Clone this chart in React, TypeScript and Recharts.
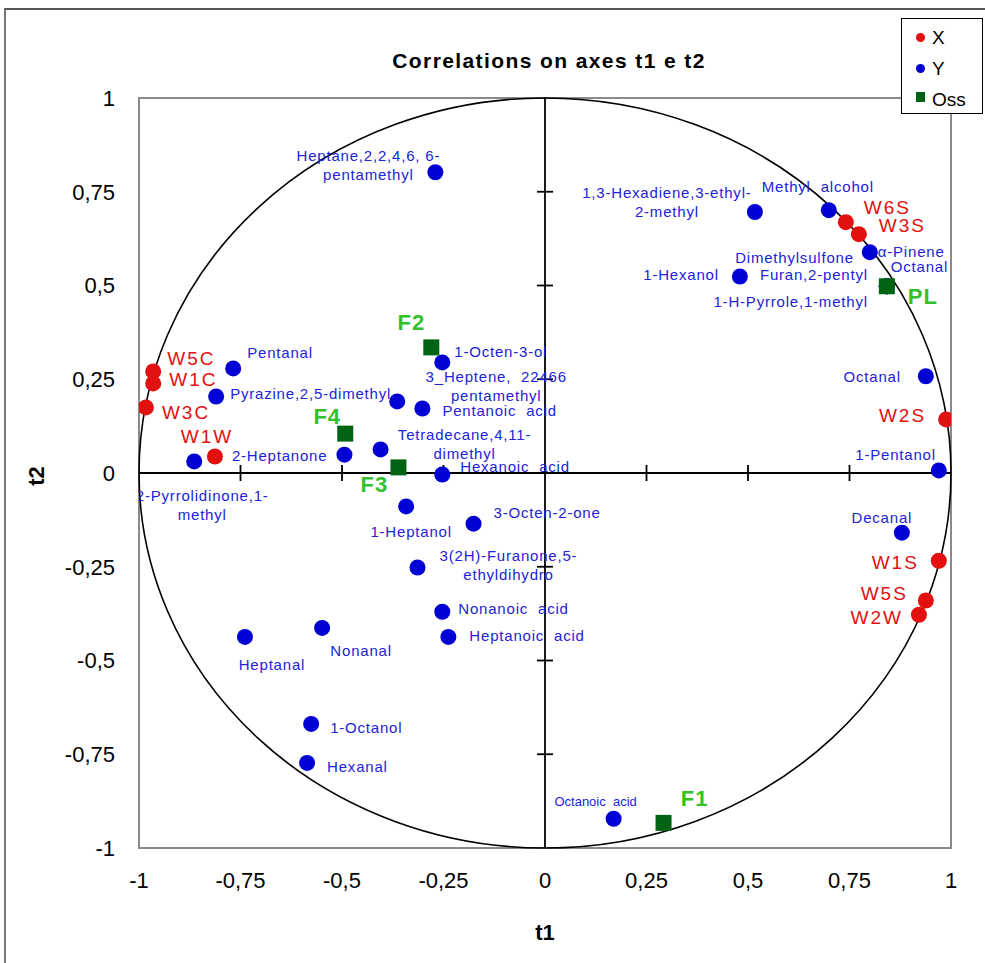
import { ScatterChart, Scatter, XAxis, YAxis, ReferenceLine, ReferenceDot, ReferenceArea, Label } from 'recharts'

const FONT = '"Liberation Sans", Arial, sans-serif'
const W = 985
const H = 963
const MARGIN = { top: 98, right: 34, bottom: 0, left: 0 }
const Y_AXIS_W = 139
const X_AXIS_H = 115
const PLOT_W = W - MARGIN.left - MARGIN.right - Y_AXIS_W
const PLOT_H = H - MARGIN.top - MARGIN.bottom - X_AXIS_H

// axis ticks
const axisTicks = [-1, -0.75, -0.5, -0.25, 0, 0.25, 0.5, 0.75, 1]
const innerTicks = [-0.75, -0.5, -0.25, 0.25, 0.5, 0.75]

// X (samples)
const xNames = ['W5C', 'W1C', 'W3C', 'W1W', 'W6S', 'W3S', 'W2S', 'W1S', 'W5S', 'W2W']
const xT1 = [-0.965, -0.965, -0.983, -0.813, 0.741, 0.773, 0.988, 0.97, 0.938, 0.921]
const xT2 = [0.271, 0.239, 0.175, 0.044, 0.669, 0.637, 0.143, -0.234, -0.34, -0.378]

// Y (volatile compounds)
const yNames = [
  'Heptane,2,2,4,6, 6-\npentamethyl',
  'Pentanal',
  'Pyrazine,2,5-dimethyl',
  '2-Pyrrolidinone,1-\nmethyl',
  '2-Heptanone',
  'Tetradecane,4,11-\ndimethyl',
  '1-Octen-3-ol',
  '3_Heptene,  22466\npentamethyl',
  'Pentanoic  acid',
  'Hexanoic  acid',
  '1-Heptanol',
  '3-Octen-2-one',
  '3(2H)-Furanone,5-\nethyldihydro',
  'Nonanoic  acid',
  'Heptanoic  acid',
  'Heptanal',
  'Nonanal',
  '1-Octanol',
  'Hexanal',
  'Octanoic  acid',
  '1,3-Hexadiene,3-ethyl-\n2-methyl',
  'Methyl  alcohol',
  'α-Pinene',
  'Octanal',
  'Dimethylsulfone',
  'Furan,2-pentyl',
  '1-H-Pyrrole,1-methyl',
  '1-Hexanol',
  'Octanal',
  '1-Pentanol',
  'Decanal',
]
const yT1 = [
  -0.27, -0.768, -0.81, -0.864, -0.494, -0.405, -0.253, -0.364, -0.302, -0.253, -0.342, -0.176, -0.314, -0.253, -0.238,
  -0.739, -0.549, -0.576, -0.586, 0.169, 0.517, 0.699, 0.8, 0.842, 0.842, 0.842, 0.842, 0.48, 0.938, 0.97, 0.879,
]
const yT2 = [
  0.802, 0.279, 0.204, 0.031, 0.049, 0.063, 0.295, 0.191, 0.172, -0.004, -0.089, -0.135, -0.252, -0.37, -0.437,
  -0.437, -0.413, -0.669, -0.773, -0.922, 0.696, 0.701, 0.589, 0.498, 0.498, 0.498, 0.498, 0.524, 0.258, 0.007, -0.159,
]

// Oss (observations)
const ossNames = ['F2', 'F4', 'F3', 'PL', 'F1']
const ossT1 = [-0.28, -0.492, -0.361, 0.842, 0.292]
const ossT2 = [0.335, 0.105, 0.015, 0.498, -0.933]

// label placement: [anchor, dx, dy, fontSize?]
type Place = [string, number, number, number?]
const xPlace: Place[] = [
  ['start', 14, -13], ['start', 16, -4], ['start', 16, 5], ['middle', -8, -21], ['start', 18, -15],
  ['start', 20, -9], ['end', -20, -4], ['end', -20, 1], ['end', -18, -8], ['end', -16, 2],
]
const yPlace: Place[] = [
  ['middle', -67, -17], ['start', 14, -16], ['start', 14, -4], ['middle', 8, 34], ['end', -17, 0],
  ['middle', 84, -15], ['start', 12, -11], ['middle', 99, -25], ['start', 20, 1], ['start', 18, -9],
  ['middle', 5, 25], ['start', 20, -12], ['middle', 91, -13], ['start', 16, -4], ['start', 21, -2],
  ['middle', 27, 27], ['middle', 39, 22], ['start', 19, 3], ['start', 20, 3], ['middle', -18, -18, 13],
  ['middle', -88, -20], ['middle', -11, -24], ['start', 8, -1], ['start', 4, -20], ['end', -33, -29],
  ['end', -19, -12], ['end', -19, 15], ['end', -21, -3], ['end', -25, 0], ['end', -3, -16],
  ['middle', -20, -16],
]
const ossPlace: Place[] = [
  ['middle', -20, -25], ['middle', -18, -18], ['middle', -24, 17], ['start', 21, 10], ['middle', 31, -25],
]

const build = (names: string[], t1: number[], t2: number[]) =>
  names.map((name, i) => ({ name, t1: t1[i], t2: t2[i], i }))

const xData = build(xNames, xT1, xT2)
const yData = build(yNames, yT1, yT2)
const ossData = build(ossNames, ossT1, ossT2)

const styles = {
  x: { fill: '#e31010', text: '#e31010', size: 19, weight: 400, ls: 2 },
  y: { fill: '#0000d4', text: '#2222d8', size: 15, weight: 400, ls: 0.8 },
  oss: { fill: '#006414', text: '#33c02a', size: 22, weight: 700, ls: 1 },
}

function makeShape(kind: 'x' | 'y' | 'oss', places: Place[]) {
  const st = styles[kind]
  return (props: any) => {
    const { cx, cy, payload } = props
    const [anchor, dx, dy, fs] = places[payload.i]
    const size = fs ?? st.size
    const lines = payload.name.split('\n')
    return (
      <g>
        {kind === 'oss' ? (
          <rect x={cx - 8} y={cy - 8} width={16} height={16} fill={st.fill} />
        ) : (
          <circle cx={cx} cy={cy} r={8} fill={st.fill} />
        )}
        <text
          x={cx + dx}
          y={cy + dy}
          textAnchor={anchor as any}
          dominantBaseline="central"
          fill={st.text}
          fontSize={size}
          fontWeight={st.weight}
          fontFamily={FONT}
          letterSpacing={size < 14 ? 0 : st.ls}
          style={{ whiteSpace: 'pre' }}
        >
          {lines.map((l: string, k: number) => (
            <tspan key={k} x={cx + dx} dy={k === 0 ? 0 : 19}>
              {l}
            </tspan>
          ))}
        </text>
      </g>
    )
  }
}

const fmt = (v: number) => String(v).replace('.', ',')

function LegendBox() {
  const row = { display: 'flex', alignItems: 'center', height: 31 }
  return (
    <div
      style={{
        position: 'absolute',
        left: 901,
        top: 18,
        width: 82,
        height: 96,
        border: '1.5px solid #000',
        background: '#fff',
        boxSizing: 'border-box',
        padding: '3px 0 0 14px',
        fontSize: 19,
        fontFamily: FONT,
      }}
    >
      <div style={row}>
        <span style={{ width: 9, height: 9, borderRadius: 5, background: styles.x.fill, marginRight: 7 }} />X
      </div>
      <div style={row}>
        <span style={{ width: 9, height: 9, borderRadius: 5, background: styles.y.fill, marginRight: 7 }} />Y
      </div>
      <div style={row}>
        <span style={{ width: 9, height: 10, background: styles.oss.fill, marginRight: 7, marginTop: -6 }} />Oss
      </div>
    </div>
  )
}

export default function App() {
  return (
    <div style={{ position: 'absolute', left: 0, top: 0, width: W, height: H, overflow: 'hidden', background: '#fff' }}>
      <div
        style={{
          position: 'absolute',
          left: 4,
          top: 8,
          width: 1100,
          height: 1100,
          borderTop: '2px solid #555',
          borderLeft: '2px solid #777',
        }}
      />
      <div
        style={{
          position: 'absolute',
          left: 349,
          top: 49,
          width: 400,
          textAlign: 'center',
          fontFamily: FONT,
          fontWeight: 700,
          fontSize: 21,
          letterSpacing: 1.4,
          lineHeight: '24px',
        }}
      >
        Correlations on axes t1 e t2
      </div>
      <ScatterChart width={W} height={H} margin={MARGIN} style={{ position: 'absolute', left: 0, top: 0 }}>
        <XAxis
          type="number"
          dataKey="t1"
          domain={[-1, 1]}
          ticks={axisTicks}
          interval={0}
          allowDataOverflow
          height={X_AXIS_H}
          axisLine={false}
          tickLine={false}
          tickSize={0}
          tickMargin={24}
          tickFormatter={fmt}
          tick={{ fill: '#000', fontSize: 22, fontFamily: FONT }}
        >
          <Label value="t1" position="insideBottom" offset={23} fill="#000" fontSize={22} fontWeight={700} fontFamily={FONT} />
        </XAxis>
        <YAxis
          type="number"
          dataKey="t2"
          domain={[-1, 1]}
          ticks={axisTicks}
          interval={0}
          allowDataOverflow
          width={Y_AXIS_W}
          axisLine={false}
          tickLine={false}
          tickSize={0}
          tickMargin={24}
          tickFormatter={fmt}
          tick={{ fill: '#000', fontSize: 22, fontFamily: FONT }}
        >
          <Label
            content={(p: any) => {
              const vb = p.viewBox || { x: 0, y: MARGIN.top, height: PLOT_H }
              const x = 36
              const y = vb.y + vb.height / 2 + 3
              return (
                <text
                  x={x}
                  y={y}
                  transform={`rotate(-90 ${x} ${y})`}
                  textAnchor="middle"
                  dominantBaseline="central"
                  fill="#000"
                  fontSize={22}
                  fontWeight={700}
                  fontFamily={FONT}
                >
                  t2
                </text>
              )
            }}
          />
        </YAxis>
        <ReferenceArea x1={-1} x2={1} y1={-1} y2={1} fill="none" fillOpacity={0} stroke="#8a8a8a" strokeWidth={2} />
        <ReferenceDot
          x={0}
          y={0}
          r={1}
          ifOverflow="visible"
          shape={(p: any) => (
            <ellipse cx={p.cx} cy={p.cy} rx={PLOT_W / 2} ry={PLOT_H / 2} fill="none" stroke="#000" strokeWidth={1.6} />
          )}
        />
        <ReferenceLine x={0} stroke="#000" strokeWidth={1.8} />
        <ReferenceLine y={0} stroke="#000" strokeWidth={1.8} />
        {innerTicks.map((v) => (
          <ReferenceDot
            key={'tx' + v}
            x={v}
            y={0}
            r={1}
            shape={(p: any) => <line x1={p.cx} x2={p.cx} y1={p.cy - 8} y2={p.cy + 8} stroke="#000" strokeWidth={1.8} />}
          />
        ))}
        {innerTicks.map((v) => (
          <ReferenceDot
            key={'ty' + v}
            x={0}
            y={v}
            r={1}
            shape={(p: any) => <line x1={p.cx - 8} x2={p.cx + 8} y1={p.cy} y2={p.cy} stroke="#000" strokeWidth={1.8} />}
          />
        ))}
        <Scatter name="X" data={xData} shape={makeShape('x', xPlace)} isAnimationActive={false} />
        <Scatter name="Y" data={yData} shape={makeShape('y', yPlace)} isAnimationActive={false} />
        <Scatter name="Oss" data={ossData} shape={makeShape('oss', ossPlace)} isAnimationActive={false} />
      </ScatterChart>
      <LegendBox />
    </div>
  )
}
